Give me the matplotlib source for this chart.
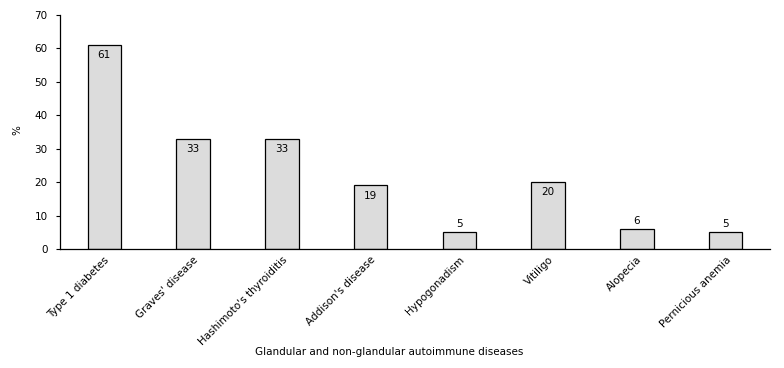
import matplotlib
matplotlib.use("Agg")
import matplotlib.pyplot as plt

categories = ["Type 1 diabetes", "Graves' disease", "Hashimoto's thyroiditis",
              "Addison's disease", "Hypogonadism", "Vitiligo", "Alopecia",
              "Pernicious anemia"]
values = [61, 33, 33, 19, 5, 20, 6, 5]
yticks = [0, 10, 20, 30, 40, 50, 60, 70]

plt.rcParams['font.family'] = ['DejaVu Sans']
fig = plt.figure(figsize=(7.84, 3.68), dpi=100)
ax = fig.add_axes([60/784, 1-249/368, 710/784, 234/368])

x = list(range(len(categories)))
ax.bar(x, values, width=0.38, color="#dcdcdc", edgecolor="black", linewidth=0.9, zorder=2)
for xi, v in zip(x, values):
    if v > 10:
        ax.text(xi, v - 1.6, str(v), ha="center", va="top", fontsize=7.5)
    else:
        ax.text(xi, v + 1.0, str(v), ha="center", va="bottom", fontsize=7.5)

ax.set_xlim(-0.5, 7.5)
ax.set_ylim(0, 70)
ax.set_yticks(yticks)
ax.set_yticklabels([str(t) for t in yticks], fontsize=7.5)
ax.set_xticks(x)
ax.set_xticklabels(categories, rotation=45, ha="right", rotation_mode="anchor", fontsize=7.5)
ax.tick_params(axis="x", length=0, pad=4)
ax.tick_params(axis="y", length=3, width=0.8, direction="out", pad=6)
for s in ["top", "right"]:
    ax.spines[s].set_visible(False)
ax.spines["left"].set_linewidth(0.9)
ax.spines["bottom"].set_linewidth(0.9)

fig.text(17/784, 1-130/368, "%", rotation=90, ha="center", va="center", fontsize=7.5)
fig.text(389/784, 1-352/368, "Glandular and non-glandular autoimmune diseases",
         ha="center", va="center", fontsize=7.5)

fig.savefig("out.png", dpi=100)
